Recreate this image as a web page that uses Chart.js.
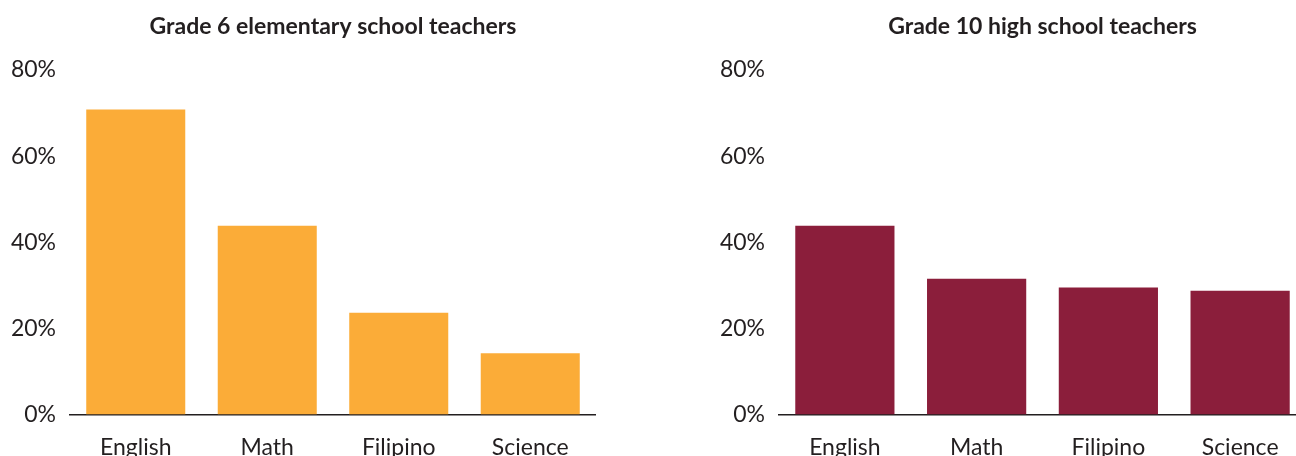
<!DOCTYPE html>
<html>
<head>
<meta charset="utf-8">
<script src="https://cdn.jsdelivr.net/npm/chart.js@4.4.1/dist/chart.umd.min.js"></script>
<style>
  html, body { margin: 0; padding: 0; background: #fff; }
  body { width: 1296px; height: 456px; overflow: hidden; position: relative; }
  .box { position: absolute; top: 0; height: 480px; }
  #left { left: 0; width: 596px; }
  #right { left: 700px; width: 606px; }
</style>
</head>
<body>
<div class="box" id="left"><canvas id="chartLeft"></canvas></div>
<div class="box" id="right"><canvas id="chartRight"></canvas></div>
<script>
const subjects = ['English', 'Math', 'Filipino', 'Science'];
const grade6Values = [70.8, 43.8, 23.6, 14.2];
const grade10Values = [43.8, 31.5, 29.5, 28.7];
const yTicks = [0, 20, 40, 60, 80];

const textColor = '#231f20';
const fontFamily = 'Lato, "Noto Sans", sans-serif';

function makeChart(canvasId, title, values, color, axisWidth) {
    const ctx = document.getElementById(canvasId).getContext('2d');
    return new Chart(ctx, {
        type: 'bar',
        data: {
            labels: subjects,
            datasets: [{
                data: values,
                backgroundColor: color,
                borderWidth: 0,
                barPercentage: 1,
                categoryPercentage: 0.753
            }]
        },
        options: {
            responsive: true,
            maintainAspectRatio: false,
            animation: false,
            layout: { padding: 0 },
            plugins: {
                legend: { display: false },
                tooltip: { enabled: false },
                title: {
                    display: true,
                    fullSize: false,
                    text: title,
                    color: textColor,
                    font: { family: fontFamily, size: 23, weight: 'bold', lineHeight: 1.2 },
                    padding: { top: 13, bottom: 29.4 }
                }
            },
            scales: {
                x: {
                    grid: { display: false, drawTicks: false },
                    border: { display: true, color: '#231f20', width: 1.5 },
                    ticks: {
                        color: textColor,
                        font: { family: fontFamily, size: 23 },
                        padding: 19,
                        maxRotation: 0
                    }
                },
                y: {
                    min: 0,
                    max: 80,
                    afterBuildTicks: axis => {
                        axis.ticks = yTicks.map(v => ({ value: v }));
                    },
                    afterFit: axis => { axis.width = axisWidth; },
                    grid: { display: false, drawTicks: false },
                    border: { display: false },
                    ticks: {
                        color: textColor,
                        font: { family: fontFamily, size: 23 },
                        padding: 14,
                        callback: v => v + '%'
                    }
                }
            }
        }
    });
}

makeChart('chartLeft', 'Grade 6 elementary school teachers', grade6Values, '#fbac38', 70);
makeChart('chartRight', 'Grade 10 high school teachers', grade10Values, '#8b1e3b', 79);
</script>
</body>
</html>
